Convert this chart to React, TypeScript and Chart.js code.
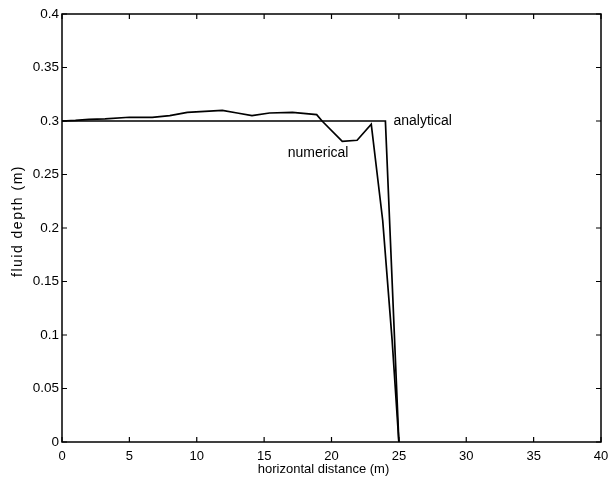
import React, { useEffect, useRef } from "react";
import { Chart, registerables } from "chart.js";

Chart.register(...registerables);

const analyticalX = [0, 24, 25];
const analyticalY = [0.3, 0.3, 0];

const numericalX = [0, 1, 2, 3.2, 5, 6.7, 8, 9.3, 11.9, 13, 14.1, 15.4, 17.1, 18.9, 19.3, 20.8, 21.9, 22.95, 23.8, 24.5, 25];
const numericalY = [0.3, 0.3005, 0.3015, 0.302, 0.3035, 0.3034, 0.305, 0.308, 0.31, 0.3075, 0.305, 0.3075, 0.308, 0.306, 0.3, 0.281, 0.282, 0.297, 0.207, 0.095, 0];

const xTicks = [0, 5, 10, 15, 20, 25, 30, 35, 40];
const yTicks = [0, 0.05, 0.1, 0.15, 0.2, 0.25, 0.3, 0.35, 0.4];

const xTitle = "horizontal distance (m)";
const yTitle = "fluid depth (m)";
const seriesLabels = [
  { text: "analytical", x: 24.6, y: 0.3 },
  { text: "numerical", x: 16.75, y: 0.27 },
];

const FONT = "Arial, 'Liberation Sans', Helvetica, sans-serif";

const boxPlugin = {
  id: "boxPlugin",
  afterDraw(chart: any) {
    const { ctx, chartArea: a, scales } = chart;
    const xs = scales.x;
    const ys = scales.y;
    ctx.save();
    ctx.strokeStyle = "#000";
    ctx.lineWidth = 1.5;
    ctx.strokeRect(a.left, a.top, a.right - a.left, a.bottom - a.top);
    ctx.lineWidth = 1.2;
    const tl = 5;
    ctx.beginPath();
    for (const v of xTicks) {
      const px = xs.getPixelForValue(v);
      ctx.moveTo(px, a.bottom);
      ctx.lineTo(px, a.bottom - tl);
      ctx.moveTo(px, a.top);
      ctx.lineTo(px, a.top + tl);
    }
    for (const v of yTicks) {
      const py = ys.getPixelForValue(v);
      ctx.moveTo(a.left, py);
      ctx.lineTo(a.left + tl, py);
      ctx.moveTo(a.right, py);
      ctx.lineTo(a.right - tl, py);
    }
    ctx.stroke();

    ctx.fillStyle = "#000";
    ctx.font = `14px ${FONT}`;
    ctx.textBaseline = "middle";
    ctx.textAlign = "left";
    for (const l of seriesLabels) {
      ctx.fillText(l.text, xs.getPixelForValue(l.x), ys.getPixelForValue(l.y));
    }

    ctx.font = `13px ${FONT}`;
    ctx.textAlign = "center";
    ctx.fillText(xTitle, (a.left + a.right) / 2 - 8, 469);

    ctx.translate(18, 221);
    ctx.rotate(-Math.PI / 2);
    ctx.font = `14px ${FONT}`;
    try {
      (ctx as any).letterSpacing = "1.5px";
    } catch (e) {}
    ctx.fillText(yTitle, 0, 0);
    ctx.restore();
  },
};

export default function App() {
  const ref = useRef<HTMLCanvasElement | null>(null);
  useEffect(() => {
    if (!ref.current) return;
    const chart = new Chart(ref.current, {
      type: "line",
      data: {
        datasets: [
          {
            label: "analytical",
            data: analyticalX.map((x, i) => ({ x, y: analyticalY[i] })),
            borderColor: "#000",
            borderWidth: 1.7,
            pointRadius: 0,
            tension: 0,
          },
          {
            label: "numerical",
            data: numericalX.map((x, i) => ({ x, y: numericalY[i] })),
            borderColor: "#000",
            borderWidth: 1.7,
            pointRadius: 0,
            tension: 0,
          },
        ],
      },
      options: {
        animation: false,
        responsive: false,
        maintainAspectRatio: false,
        layout: { padding: { left: 0, right: 8, top: 14, bottom: 0 } },
        plugins: { legend: { display: false }, tooltip: { enabled: false } },
        scales: {
          x: {
            type: "linear",
            min: 0,
            max: 40,
            afterFit: (s: any) => {
              s.height = 38;
              s.paddingLeft = 0;
              s.paddingRight = 0;
              s.paddingTop = 0;
              s.paddingBottom = 0;
            },
            afterBuildTicks: (s: any) => {
              s.ticks = xTicks.map((v) => ({ value: v }));
            },
            grid: { display: false, drawTicks: false },
            border: { display: false },
            ticks: {
              padding: 7,
              color: "#000",
              font: { family: FONT, size: 13 },
              maxRotation: 0,
              callback: (v: any) => String(+Number(v).toFixed(2)),
            },
          },
          y: {
            type: "linear",
            min: 0,
            max: 0.4,
            afterFit: (s: any) => {
              s.width = 62;
              s.paddingLeft = 0;
              s.paddingRight = 0;
              s.paddingTop = 0;
              s.paddingBottom = 0;
            },
            afterBuildTicks: (s: any) => {
              s.ticks = yTicks.map((v) => ({ value: v }));
            },
            grid: { display: false, drawTicks: false },
            border: { display: false },
            ticks: {
              padding: 3,
              color: "#000",
              font: { family: FONT, size: 13.5 },
              callback: (v: any) => String(+Number(v).toFixed(2)),
            },
          },
        },
      },
      plugins: [boxPlugin],
    });
    return () => chart.destroy();
  }, []);
  return (
    <div style={{ position: "absolute", left: 0, top: 0, width: 609, height: 480, background: "#fff" }}>
      <canvas ref={ref} width={609} height={480} style={{ width: 609, height: 480 }} />
    </div>
  );
}
